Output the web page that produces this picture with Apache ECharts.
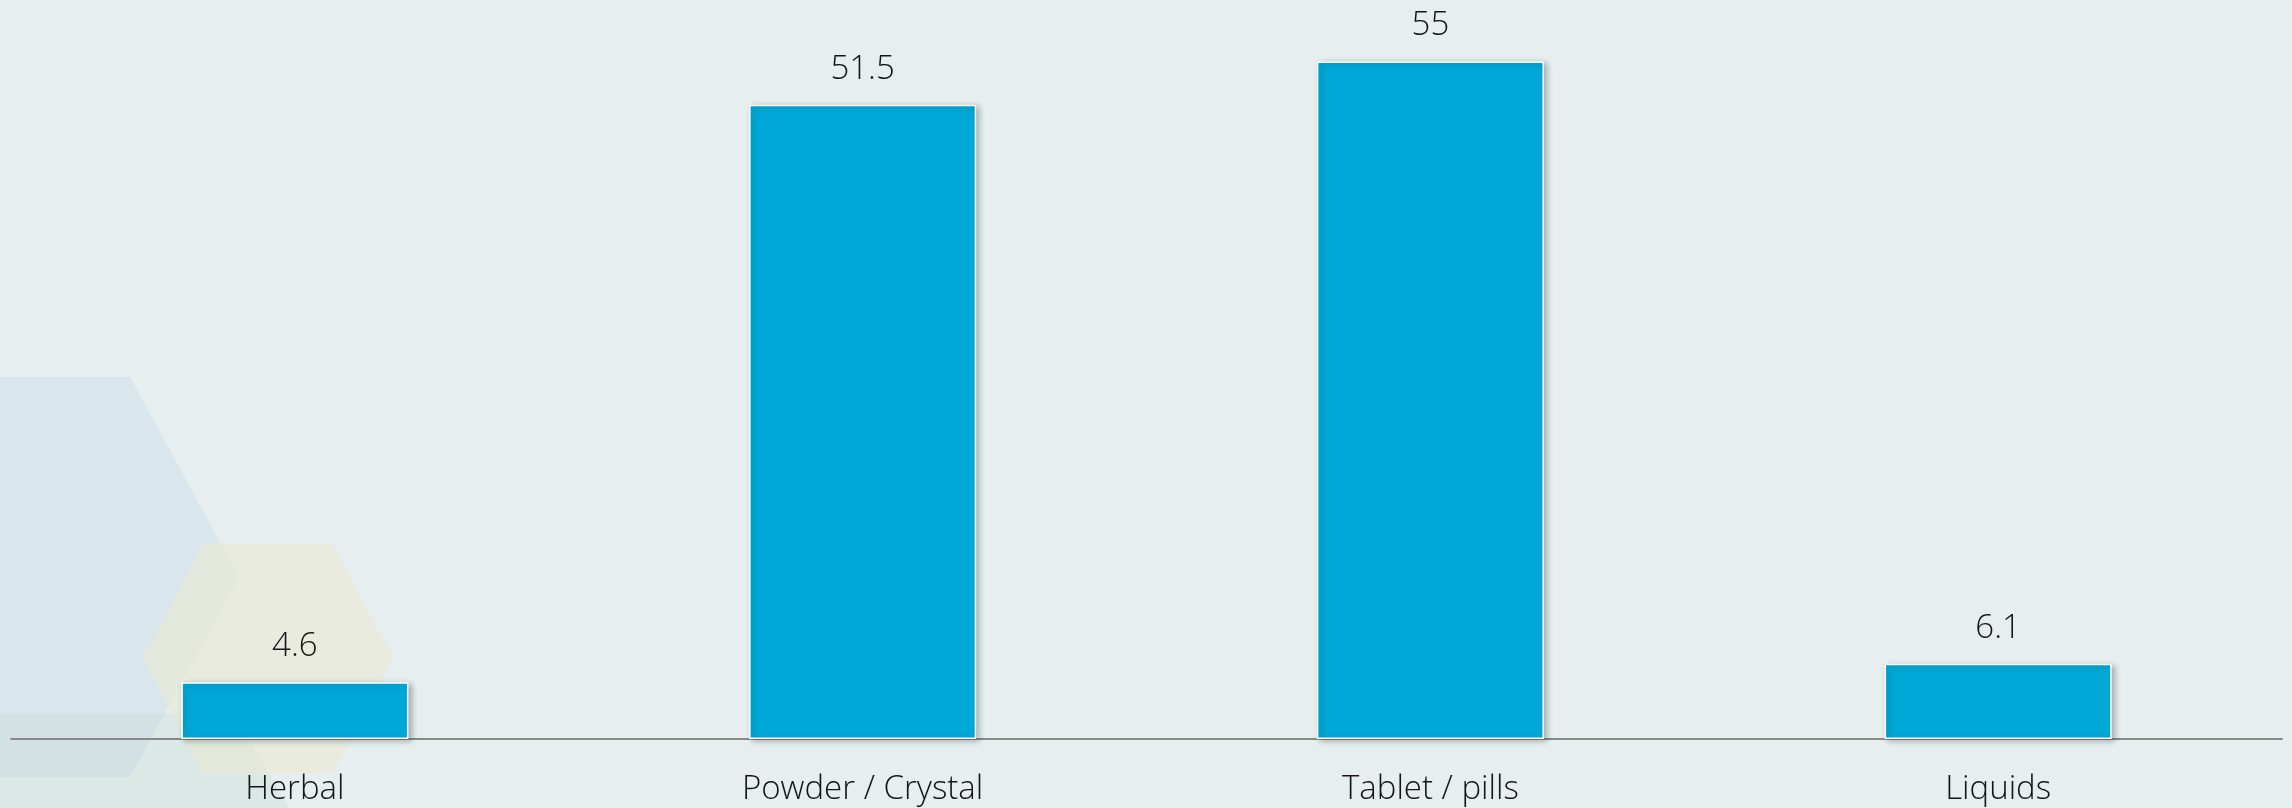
<!DOCTYPE html>
<html>
<head>
<meta charset="utf-8">
<title>Drug forms</title>
<script src="https://cdn.jsdelivr.net/npm/echarts@6/dist/echarts.min.js"></script>
<style>
  html, body { margin: 0; padding: 0; background: #e6eef0; }
  #chart { width: 2292px; height: 808px; }
</style>
</head>
<body>
<div id="chart"></div>
<script>
// Categories and values
const categories = ['Herbal', 'Powder / Crystal', 'Tablet / pills', 'Liquids'];
const shares = [4.6, 51.5, 55, 6.1];

const yMin = 0;
const yMax = 60;

const FONT = '"Open Sans", "Noto Sans", sans-serif';
const TEXT_COLOR = '#141414';

const chart = echarts.init(document.getElementById('chart'), null, { renderer: 'canvas' });

// Decorative hexagons in the lower-left corner of the backdrop
const hexagons = [
  { points: [[239, 577], [130, 777], [-100, 777], [-200, 577], [-100, 377], [130, 377]], fill: '#d9e6ec' },
  { points: [[-60, 713], [234, 713], [300, 827], [-60, 827]], fill: 'rgba(196,220,208,0.30)' },
  { points: [[394, 658], [333, 773], [203, 773], [143, 658], [203, 544], [332, 544]], fill: 'rgba(234,234,208,0.55)' }
];

chart.setOption({
  backgroundColor: '#e6eef0',
  animation: false,
  graphic: hexagons.map((h, i) => ({
    type: 'polygon',
    z: -10 + i,
    silent: true,
    shape: { points: h.points },
    style: { fill: h.fill }
  })),
  grid: { left: 11, right: 10, top: -2, bottom: 69, containLabel: false },
  xAxis: {
    type: 'category',
    data: categories,
    axisLine: { show: true, lineStyle: { color: '#898989', width: 2 } },
    axisTick: { show: false },
    axisLabel: {
      margin: 34,
      color: TEXT_COLOR,
      fontFamily: FONT,
      fontWeight: 300,
      fontSize: 33
    }
  },
  yAxis: {
    type: 'value',
    min: yMin,
    max: yMax,
    show: false,
    splitLine: { show: false }
  },
  series: [{
    type: 'bar',
    data: shares,
    barWidth: '40%',
    z: 2,
    itemStyle: {
      color: '#00a8d7',
      borderColor: '#ffffff',
      borderWidth: 1.5,
      shadowColor: 'rgba(0,0,0,0.28)',
      shadowBlur: 6,
      shadowOffsetX: 3,
      shadowOffsetY: 2
    },
    label: {
      show: true,
      position: 'top',
      distance: 19,
      color: TEXT_COLOR,
      fontFamily: FONT,
      fontWeight: 300,
      fontSize: 33
    }
  }]
});
</script>
</body>
</html>
